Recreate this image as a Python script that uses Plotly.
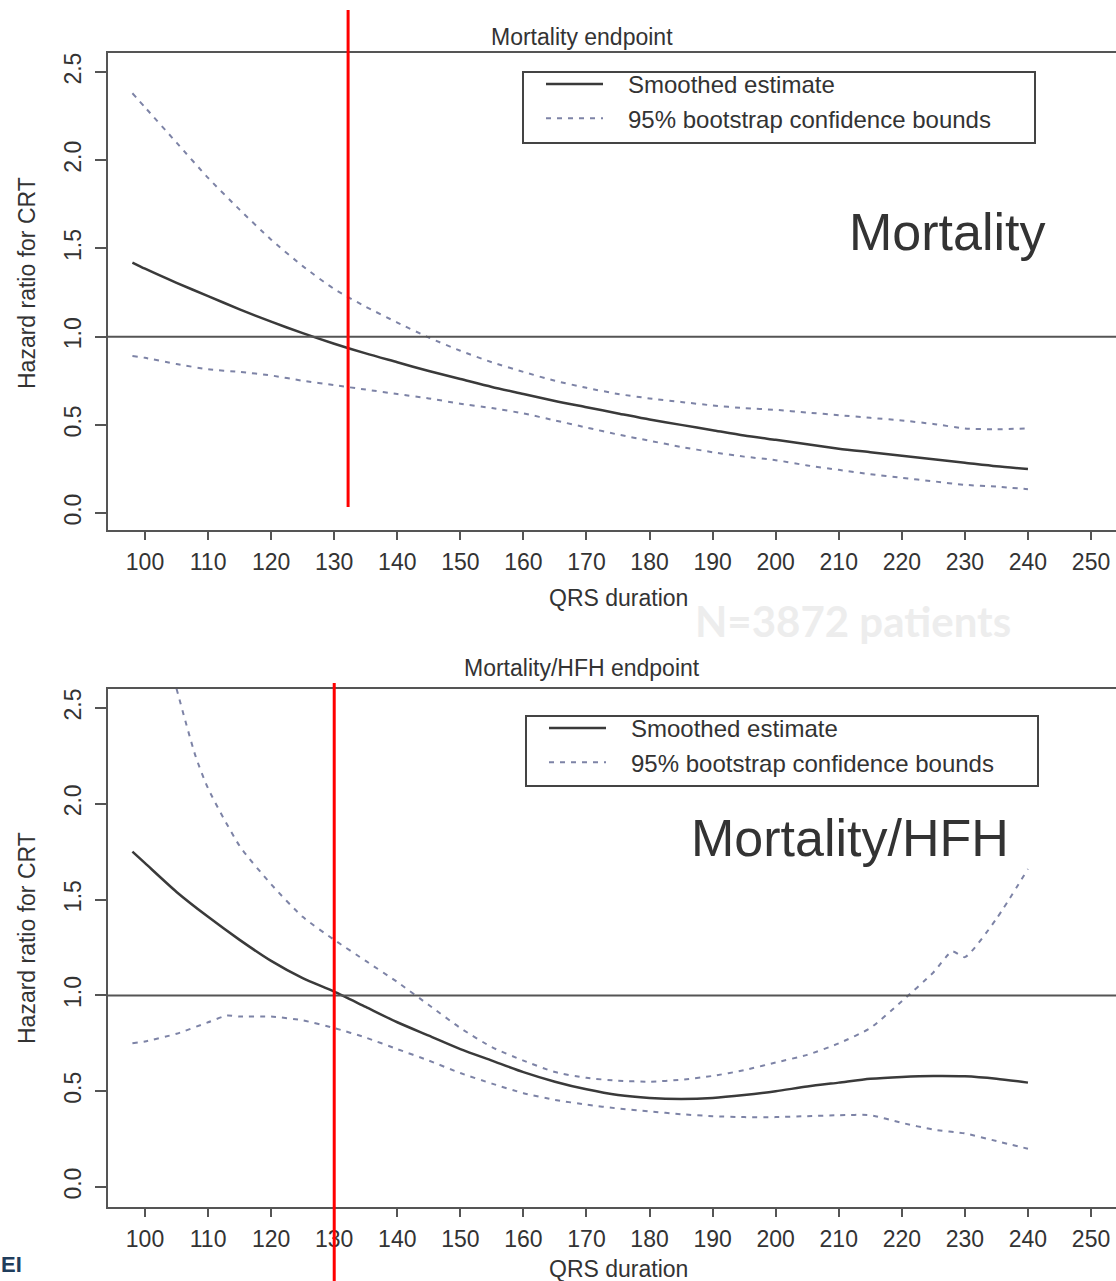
import plotly.graph_objects as go

# ---------------- data ----------------
qrs_top = [98, 100, 105, 110, 115, 120, 125, 130, 135, 140, 145, 150, 155, 160, 165, 170,
           175, 180, 185, 190, 195, 200, 205, 210, 215, 220, 225, 230, 235, 240]
mort_est = [1.42, 1.385, 1.305, 1.23, 1.155, 1.085, 1.02, 0.96, 0.905, 0.855, 0.805, 0.76, 0.715, 0.675, 0.635, 0.60,
            0.565, 0.53, 0.50, 0.47, 0.44, 0.415, 0.39, 0.365, 0.345, 0.325, 0.305, 0.285, 0.265, 0.25]
mort_upper = [2.38, 2.30, 2.10, 1.90, 1.72, 1.55, 1.40, 1.27, 1.17, 1.08, 0.995, 0.92, 0.855, 0.80, 0.75, 0.71,
              0.675, 0.65, 0.63, 0.61, 0.595, 0.585, 0.57, 0.555, 0.54, 0.525, 0.505, 0.48, 0.475, 0.48]
mort_lower = [0.89, 0.88, 0.845, 0.815, 0.80, 0.78, 0.75, 0.725, 0.70, 0.675, 0.65, 0.62, 0.595, 0.565, 0.525, 0.485,
              0.445, 0.41, 0.375, 0.345, 0.32, 0.30, 0.27, 0.245, 0.22, 0.20, 0.18, 0.16, 0.15, 0.135]

qrs_bot = [98, 100, 105, 110, 115, 120, 125, 130, 135, 140, 145, 150, 155, 160, 165, 170,
           175, 180, 185, 190, 195, 200, 205, 210, 215, 220, 225, 230, 235, 240]
hfh_est = [1.75, 1.69, 1.54, 1.41, 1.29, 1.18, 1.09, 1.02, 0.94, 0.86, 0.79, 0.72, 0.66, 0.60, 0.55, 0.51,
           0.48, 0.465, 0.46, 0.465, 0.48, 0.50, 0.525, 0.545, 0.565, 0.575, 0.58, 0.578, 0.565, 0.545]
qrs_bot_upper = [105, 108, 110, 115, 120, 125, 130, 135, 140, 145, 150, 155, 160, 165, 170,
                 175, 180, 185, 190, 195, 200, 205, 210, 215, 220, 225, 228, 230, 235, 240]
hfh_upper = [2.60, 2.25, 2.08, 1.78, 1.58, 1.41, 1.29, 1.18, 1.07, 0.95, 0.83, 0.73, 0.66, 0.60, 0.57,
             0.555, 0.55, 0.56, 0.58, 0.61, 0.65, 0.69, 0.75, 0.83, 0.97, 1.12, 1.23, 1.20, 1.40, 1.66]
qrs_bot_lower = [98, 100, 105, 110, 113, 115, 120, 125, 130, 135, 140, 145, 150, 155, 160, 165, 170,
                 175, 180, 185, 190, 195, 200, 205, 210, 215, 220, 225, 230, 235, 240]
hfh_lower = [0.75, 0.76, 0.80, 0.86, 0.895, 0.89, 0.89, 0.87, 0.83, 0.78, 0.72, 0.66, 0.595, 0.54, 0.49, 0.455, 0.43,
             0.41, 0.395, 0.38, 0.37, 0.365, 0.365, 0.37, 0.375, 0.375, 0.335, 0.30, 0.28, 0.24, 0.20]

x_ticks = [100, 110, 120, 130, 140, 150, 160, 170, 180, 190, 200, 210, 220, 230, 240, 250]
y_ticks = [0.0, 0.5, 1.0, 1.5, 2.0, 2.5]
y_tick_text = ["0.0", "0.5", "1.0", "1.5", "2.0", "2.5"]
cutoff_top = 132.2
cutoff_bot = 130

# ---------------- layout helpers ----------------
W, H = 1116, 1281
def px(xp):
    return xp / W
def py(yp):
    return 1 - yp / H

EST_COLOR = "#3a3a3a"
CI_COLOR = "#7d83a6"
AX_COLOR = "#555555"
TXT = "#333333"
FONT = "Liberation Sans, Arial, sans-serif"
NB = "\u00a0\u00a0\u00a0"

fig = go.Figure()

def add_panel(xa, ya, leg, xe, ye, xu, yu, xl, yl):
    fig.add_trace(go.Scatter(x=xe, y=ye, mode="lines", name=NB + "Smoothed estimate",
                             line=dict(color=EST_COLOR, width=2.5, shape="spline", smoothing=0.7),
                             xaxis=xa, yaxis=ya, legend=leg))
    fig.add_trace(go.Scatter(x=xu, y=yu, mode="lines", name=NB + "95% bootstrap confidence bounds",
                             line=dict(color=CI_COLOR, width=2, dash="5px,6px", shape="spline", smoothing=0.6),
                             xaxis=xa, yaxis=ya, legend=leg, legendgroup=leg + "ci"))
    fig.add_trace(go.Scatter(x=xl, y=yl, mode="lines", name=NB + "95% bootstrap confidence bounds",
                             line=dict(color=CI_COLOR, width=2, dash="5px,6px", shape="spline", smoothing=0.6),
                             xaxis=xa, yaxis=ya, legend=leg, legendgroup=leg + "ci", showlegend=False))

add_panel("x", "y", "legend", qrs_top, mort_est, qrs_top, mort_upper, qrs_top, mort_lower)
add_panel("x2", "y2", "legend2", qrs_bot, hfh_est, qrs_bot_upper, hfh_upper, qrs_bot_lower, hfh_lower)

xrange = [94.13, 253.96]
xaxis_common = dict(range=xrange, domain=[px(108), 1.0], tickvals=x_ticks,
                    ticktext=[str(v) for v in x_ticks], ticks="outside", ticklen=8, tickwidth=2,
                    tickcolor=AX_COLOR, showline=True, linecolor=AX_COLOR, linewidth=2, mirror=True,
                    showgrid=False, zeroline=False, ticklabelstandoff=2,
                    tickfont=dict(family=FONT, size=23, color=TXT))
yaxis_common = dict(tickvals=y_ticks, ticktext=y_tick_text, ticks="outside", ticklen=11, tickwidth=2,
                    tickcolor=AX_COLOR, showline=True, linecolor=AX_COLOR, linewidth=2, mirror=False,
                    showgrid=False, zeroline=False, tickangle=-90, ticklabelstandoff=5,
                    tickfont=dict(family=FONT, size=23, color=TXT))

legend_common = dict(borderwidth=0, bgcolor="rgba(0,0,0,0)",
                     font=dict(family=FONT, size=24, color=TXT), xanchor="left", yanchor="top",
                     itemwidth=57, tracegroupgap=0)

fig.update_layout(
    width=W, height=H,
    margin=dict(l=0, r=0, t=0, b=0),
    paper_bgcolor="white", plot_bgcolor="white",
    xaxis=dict(xaxis_common, anchor="y"),
    yaxis=dict(yaxis_common, domain=[py(530), py(53)], range=[-0.096, 2.608], anchor="x"),
    xaxis2=dict(xaxis_common, anchor="y2"),
    yaxis2=dict(yaxis_common, domain=[py(1207), py(689)], range=[-0.104, 2.599], anchor="x2"),
    legend=dict(legend_common, x=px(541), y=py(62)),
    legend2=dict(legend_common, x=px(544), y=py(706)),
)

# legend frames
for (x0, y0, x1, y1) in [(523, 72, 1035, 143), (526, 716, 1038, 786)]:
    fig.add_shape(type="rect", xref="paper", yref="paper", x0=px(x0), x1=px(x1), y0=py(y1), y1=py(y0),
                  line=dict(color="#444444", width=2), fillcolor="rgba(0,0,0,0)")

# reference line at HR = 1
for xr, yr in [("x", "y"), ("x2", "y2")]:
    fig.add_shape(type="line", xref=xr + " domain", yref=yr, x0=0, x1=1, y0=1, y1=1,
                  line=dict(color=AX_COLOR, width=2))

# red cutoff lines
fig.add_shape(type="line", xref="x", yref="paper", x0=cutoff_top, x1=cutoff_top,
              y0=py(507), y1=py(10), line=dict(color="#ff0000", width=3))
fig.add_shape(type="line", xref="x2", yref="paper", x0=cutoff_bot, x1=cutoff_bot,
              y0=0, y1=py(683), line=dict(color="#ff0000", width=3))

annotations = [
    dict(text="Mortality endpoint", x=px(582), y=py(37), size=23, color=TXT, angle=0),
    dict(text="Mortality/HFH endpoint", x=px(582), y=py(668), size=23, color=TXT, angle=0),
    dict(text="QRS duration", x=px(618), y=py(598), size=23, color=TXT, angle=0),
    dict(text="QRS duration", x=px(618), y=py(1269), size=23, color=TXT, angle=0),
    dict(text="Hazard ratio for CRT", x=px(27), y=py(283), size=23, color=TXT, angle=-90),
    dict(text="Hazard ratio for CRT", x=px(27), y=py(938), size=23, color=TXT, angle=-90),
    dict(text="Mortality", x=px(947), y=py(232), size=52, color="#333333", angle=0),
    dict(text="Mortality/HFH", x=px(850), y=py(838), size=52, color="#333333", angle=0),
]
for a in annotations:
    fig.add_annotation(text=a["text"], x=a["x"], y=a["y"], xref="paper", yref="paper",
                       xanchor="center", yanchor="middle", showarrow=False, textangle=a["angle"],
                       font=dict(family=FONT, size=a["size"], color=a["color"]))

fig.add_annotation(text="<b>N=3872 patients</b>", x=px(853), y=py(621), xref="paper", yref="paper",
                   xanchor="center", yanchor="middle", showarrow=False,
                   font=dict(family="Lato, Open Sans, sans-serif", size=42, color="#ededed"))
fig.add_annotation(text="<b>EI</b>", x=0, y=py(1264), xref="paper", yref="paper",
                   xanchor="left", yanchor="middle", showarrow=False, borderpad=0,
                   font=dict(family=FONT, size=22, color="#1f3d5c"))

fig.write_html("out.html", config={"displayModeBar": False},
               post_script="document.body.style.margin='0';document.body.style.padding='0';")
